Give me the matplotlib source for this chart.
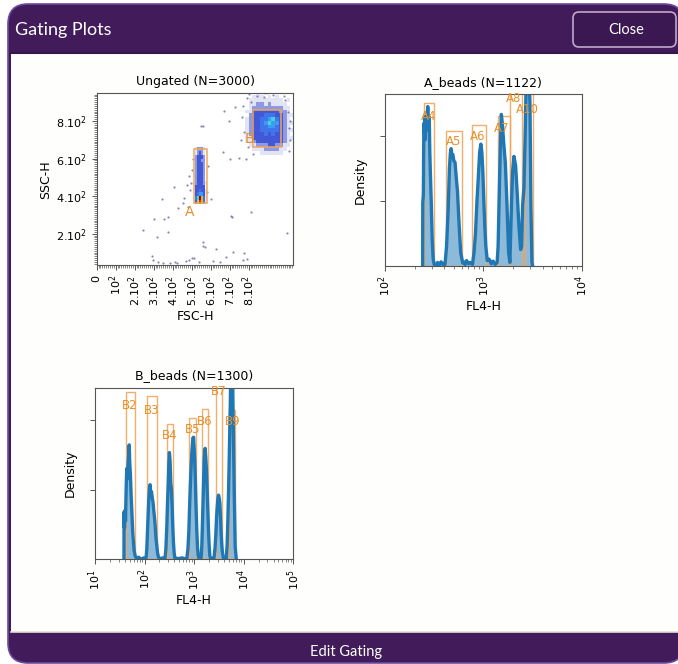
import numpy as np
import matplotlib
matplotlib.use("Agg")
import matplotlib.pyplot as plt
from matplotlib.patches import FancyBboxPatch, Rectangle
from matplotlib.colors import ListedColormap, BoundaryNorm
from matplotlib.ticker import MultipleLocator, FixedLocator, NullFormatter

# ---------------- data ----------------
# Ungated: sparse events outside the two clusters (FSC-H, SSC-H)
fsc_out = [548, 560, 670, 728, 698, 663, 702, 750, 786, 824,
           407, 342, 453, 430, 600, 705, 810, 710, 374, 354, 302, 242, 374, 316, 1000,
           558, 561, 570, 628, 681, 719, 772, 793, 777, 512,
           289, 298, 324, 347, 386, 412, 424, 470, 487, 500, 540, 610, 650,
           487, 474, 461, 491, 500, 482, 505, 582, 585, 498,
           770, 765, 775, 790, 1010, 1015, 985, 760, 800, 1005,
           795, 810, 1012, 990, 845, 930, 880, 1020]
ssc_out = [775, 775, 854, 872, 797, 637, 597, 602, 597, 625,
           447, 383, 362, 335, 383, 294, 317, 291, 291, 277, 278, 220, 211, 181, 205,
           157, 134, 131, 117, 77, 104, 60, 63, 95, 69,
           83, 60, 51, 42, 45, 51, 42, 56, 60, 72, 50, 55, 48,
           508, 460, 389, 433, 540, 344, 600, 420, 560, 470,
           880, 820, 740, 920, 760, 700, 930, 700, 945, 850,
           660, 900, 640, 910, 935, 940, 925, 800]

# Ungated: density grid of cluster A (rows = SSC bins, bottom to top)
a_fsc_edges = [510, 520, 530, 540, 550, 560, 570, 580]
a_ssc_edges = [360, 380, 400, 420, 440, 460, 480, 500, 520, 540, 560, 580, 600, 620, 640, 660]
a_density = [
    [1, 3, 7, 9, 8, 4, 1],
    [1, 4, 6, 10, 8, 4, 1],
    [1, 3, 4, 5, 5, 3, 1],
    [1, 3, 3, 4, 3, 3, 1],
    [1, 3, 3, 3, 3, 3, 0],
    [1, 2, 3, 3, 3, 2, 1],
    [0, 2, 3, 3, 3, 2, 0],
    [1, 2, 3, 3, 3, 2, 0],
    [0, 2, 3, 3, 3, 2, 0],
    [0, 2, 3, 3, 3, 2, 0],
    [0, 2, 3, 3, 3, 2, 0],
    [0, 2, 3, 3, 2, 2, 0],
    [0, 2, 3, 3, 3, 2, 0],
    [0, 1, 2, 3, 2, 1, 0],
    [0, 1, 2, 2, 2, 1, 0],
]

# Ungated: density grid of cluster B
b_fsc_edges = [780, 800, 820, 840, 860, 880, 900, 920, 940, 960, 980, 1000, 1020, 1040]
b_ssc_edges = [620, 640, 660, 680, 700, 720, 740, 760, 780, 800, 820, 840, 860, 880, 900, 920, 940, 960]
b_density = [
    [0, 0, 0, 0, 1, 1, 1, 1, 1, 1, 0, 0, 0],
    [0, 0, 1, 1, 1, 2, 2, 2, 2, 1, 1, 0, 0],
    [0, 1, 1, 2, 2, 2, 3, 3, 2, 2, 1, 1, 0],
    [1, 1, 2, 3, 3, 3, 3, 3, 3, 3, 2, 1, 0],
    [1, 1, 3, 3, 3, 3, 3, 3, 3, 3, 2, 1, 1],
    [1, 2, 3, 3, 3, 4, 3, 4, 3, 3, 2, 1, 0],
    [1, 2, 3, 3, 4, 4, 4, 4, 4, 3, 2, 1, 1],
    [1, 2, 3, 3, 4, 4, 5, 5, 4, 3, 2, 1, 0],
    [1, 2, 3, 3, 4, 5, 6, 5, 5, 3, 2, 1, 1],
    [1, 2, 3, 3, 4, 4, 5, 6, 4, 3, 2, 1, 0],
    [0, 2, 3, 3, 3, 4, 4, 4, 3, 3, 2, 1, 1],
    [1, 1, 3, 3, 3, 3, 3, 3, 3, 2, 2, 1, 0],
    [0, 1, 2, 2, 2, 2, 2, 2, 2, 2, 1, 1, 0],
    [0, 1, 1, 2, 2, 1, 2, 1, 1, 1, 1, 0, 0],
    [0, 1, 1, 1, 1, 1, 1, 1, 1, 1, 0, 1, 0],
    [0, 0, 1, 1, 1, 0, 1, 0, 1, 0, 0, 0, 0],
    [0, 0, 0, 1, 0, 1, 0, 0, 0, 0, 0, 0, 0],
]

# Ungated gates: name, fsc0, ssc0, fsc1, ssc1, label position
ug_names = ["A", "B"]
ug_fsc0 = [512, 821]
ug_ssc0 = [362, 660]
ug_fsc1 = [579, 970]
ug_ssc1 = [650, 860]
ug_lab_fsc = [491, 803]
ug_lab_ssc = [318, 705]

# A_beads density curve (log10 FL4-H, density)
a_log = [2.383, 2.384, 2.39, 2.395, 2.40, 2.405, 2.41, 2.415, 2.42, 2.425, 2.43, 2.435, 2.44,
         2.445, 2.45, 2.455, 2.46, 2.47, 2.48, 2.49, 2.50,
         2.52, 2.535, 2.55, 2.57, 2.59,
         2.61, 2.626, 2.643, 2.655, 2.665, 2.672, 2.68, 2.69, 2.70, 2.712, 2.725, 2.737, 2.748,
         2.76, 2.77, 2.78, 2.79,
         2.80, 2.815, 2.83, 2.85, 2.87,
         2.89, 2.905, 2.92, 2.935, 2.95, 2.962, 2.975, 2.985, 2.995, 3.005, 3.015, 3.025, 3.04,
         3.06, 3.08, 3.10, 3.12, 3.14,
         3.15, 3.16, 3.173, 3.183, 3.193, 3.207, 3.224, 3.24, 3.257, 3.27,
         3.277, 3.287, 3.297, 3.311, 3.328, 3.345, 3.362, 3.379, 3.389,
         3.399, 3.413, 3.426, 3.44, 3.457, 3.474, 3.484, 3.494, 3.50]
a_dens = [0.0, 0.97, 1.1, 2.2, 2.05, 2.3, 1.95, 2.2, 2.3, 2.1, 2.35, 2.46, 2.3,
          2.2, 2.3, 1.8, 1.5, 1.0, 0.4, 0.1, 0.02,
          0.0, 0.05, 0.0, 0.06, 0.02,
          0.02, 0.3, 0.9, 1.5, 1.75, 1.81, 1.7, 1.72, 1.62, 1.6, 1.35, 1.15, 0.8,
          0.45, 0.2, 0.12, 0.04,
          0.06, 0.02, 0.08, 0.03, 0.05,
          0.02, 0.2, 0.5, 1.0, 1.4, 1.75, 1.88, 1.75, 1.45, 1.0, 0.6, 0.3, 0.08,
          0.1, 0.03, 0.07, 0.02, 0.05,
          0.3, 1.0, 1.86, 2.34, 2.2, 1.9, 1.58, 0.95, 0.2, 0.05,
          0.45, 1.0, 1.45, 1.69, 1.55, 1.1, 0.6, 0.25, 0.3,
          0.93, 1.2, 2.1, 3.2, 3.5, 2.5, 0.9, 0.05, 0.0]

a_gate_names = ["A4", "A5", "A6", "A7", "A8", "A10"]
a_gate_lo = [2.396, 2.616, 2.886, 3.144, 3.27, 3.42]
a_gate_hi = [2.50, 2.785, 3.025, 3.27, 3.39, 3.50]
a_gate_top = [2.52, 2.09, 2.17, 2.32, 2.9, 2.9]
a_lab_log = [2.447, 2.70, 2.947, 3.19, 3.31, 3.45]
a_lab_y = [2.30, 1.92, 2.0, 2.12, 2.59, 2.41]

# B_beads density curve
b_log = [1.584, 1.586, 1.595, 1.605, 1.615, 1.628, 1.64, 1.65, 1.66, 1.675, 1.69, 1.70, 1.715,
         1.73, 1.745, 1.76, 1.775, 1.79, 1.81, 1.84,
         1.88, 1.93, 1.98,
         2.03, 2.045, 2.057, 2.07, 2.084, 2.098, 2.111, 2.125, 2.14, 2.155, 2.17, 2.185, 2.2,
         2.212, 2.23, 2.246, 2.26, 2.28,
         2.32, 2.37,
         2.41, 2.43, 2.448, 2.462, 2.475, 2.488, 2.501, 2.515, 2.529, 2.542, 2.556, 2.57, 2.582,
         2.596, 2.61,
         2.68, 2.76,
         2.85, 2.875, 2.893, 2.906, 2.92, 2.939, 2.955, 2.975, 2.988, 3.0, 3.013, 3.027, 3.04,
         3.054, 3.067, 3.08, 3.095,
         3.12,
         3.14, 3.155, 3.165, 3.175, 3.19, 3.202, 3.212, 3.222, 3.235, 3.249, 3.262, 3.276, 3.29,
         3.303, 3.315, 3.33,
         3.37,
         3.40, 3.42, 3.438, 3.452, 3.465, 3.48, 3.492, 3.505, 3.519, 3.532, 3.545, 3.558, 3.572,
         3.59,
         3.62,
         3.646, 3.665, 3.68, 3.695, 3.707, 3.717, 3.727, 3.747, 3.768, 3.788, 3.808, 3.828, 3.848]
b_dens = [0.0, 0.68, 0.45, 0.7, 0.55, 1.0, 1.3, 1.15, 1.3, 1.45, 1.64, 1.4, 1.2,
          0.9, 0.65, 0.4, 0.25, 0.12, 0.05, 0.01,
          0.03, 0.0, 0.02,
          0.02, 0.15, 0.37, 0.6, 0.85, 1.0, 1.07, 0.92, 0.97, 0.88, 0.82, 0.7, 0.6,
          0.5, 0.3, 0.2, 0.1, 0.03,
          0.01, 0.02,
          0.0, 0.15, 0.46, 0.8, 1.04, 1.35, 1.53, 1.4, 1.1, 1.0, 0.75, 0.45, 0.25,
          0.1, 0.02,
          0.01, 0.02,
          0.0, 0.15, 0.4, 0.71, 1.0, 1.33, 1.55, 1.74, 1.75, 1.6, 1.4, 1.05, 0.71,
          0.4, 0.18, 0.06, 0.02,
          0.01,
          0.02, 0.2, 0.45, 0.71, 1.1, 1.42, 1.55, 1.59, 1.45, 1.28, 1.0, 0.71, 0.4,
          0.2, 0.06, 0.01,
          0.01,
          0.02, 0.15, 0.37, 0.6, 0.75, 0.88, 0.92, 0.88, 0.8, 0.6, 0.37, 0.2, 0.09,
          0.02,
          0.01,
          0.0, 0.2, 0.56, 1.0, 1.42, 1.8, 2.14, 3.0, 3.0, 2.0, 0.96, 0.18, 0.02]

b_gate_names = ["B2", "B3", "B4", "B5", "B6", "B7", "B9"]
b_gate_lo = [1.626, 2.057, 2.448, 2.906, 3.16, 3.438, 3.71]
b_gate_hi = [1.808, 2.259, 2.582, 3.04, 3.276, 3.559, 3.828]
b_gate_top = [2.40, 2.34, 1.94, 2.02, 2.15, 2.7, 2.14]
b_lab_log = [1.707, 2.145, 2.501, 2.973, 3.222, 3.492, 3.768]
b_lab_y = [2.20, 2.14, 1.78, 1.86, 1.97, 2.40, 1.97]

# ---------------- style ----------------
purple = "#421c5a"
gate_col = "#f2a55a"
lab_col = "#e8902a"
blue = "#1f77b4"
spine_col = "#555555"

dens_cmap = ListedColormap(["#e2e4f5", "#8d9ae2", "#4358d6", "#3f74ea", "#3c9cf0",
                            "#44d2e2", "#a8e050", "#f0b020", "#e03010", "#a00808"])
dens_norm = BoundaryNorm(np.arange(0.5, 11.5, 1.0), dens_cmap.N)

W, H = 678, 664
fig = plt.figure(figsize=(W / 100, H / 100), dpi=100)
fig.patch.set_facecolor("white")

# ---------------- window chrome (pixel coordinates) ----------------
bg = fig.add_axes([0, 0, 1, 1])
bg.set_xlim(0, W)
bg.set_ylim(H, 0)
bg.axis("off")
bg.add_patch(FancyBboxPatch((8, 4), 676, 659, boxstyle="round,pad=0,rounding_size=20",
                            fc=purple, ec="#6a4a9e", lw=1.2))
bg.add_patch(Rectangle((11, 53), 680, 579, fc="#fefefc", ec="none"))
bg.plot([11, W], [631.5, 631.5], color="#e4e0d2", lw=1.2)
bg.plot([11, W], [52.5, 52.5], color="#37164c", lw=1.5)
bg.text(15, 30, "Gating Plots", color="white", fontsize=13, family="Lato",
        ha="left", va="center")
bg.add_patch(FancyBboxPatch((573, 12), 103, 35, boxstyle="round,pad=0,rounding_size=6",
                            fc="#3c1853", ec="#c0a8cc", lw=1.2))
bg.text(626, 30, "Close", color="white", fontsize=10.5, family="Lato",
        ha="center", va="center")
bg.text(346, 652, "Edit Gating", color="white", fontsize=10.5, family="Lato",
        ha="center", va="center")


def style_axes(ax):
    for s in ax.spines.values():
        s.set_color(spine_col)
        s.set_linewidth(0.8)
    ax.tick_params(which="major", length=3.5, width=0.7, color=spine_col, labelsize=8)
    ax.tick_params(which="minor", length=2, width=0.5, color=spine_col)


# ---------------- Ungated scatter ----------------
ax1 = fig.add_axes([96.7 / W, 1 - 265.3 / H, 196.6 / W, 172 / H])
style_axes(ax1)
za = np.ma.masked_equal(np.array(a_density), 0)
zb = np.ma.masked_equal(np.array(b_density), 0)
ax1.pcolormesh(a_fsc_edges, a_ssc_edges, za, cmap=dens_cmap, norm=dens_norm)
ax1.pcolormesh(b_fsc_edges, b_ssc_edges, zb, cmap=dens_cmap, norm=dens_norm)
ax1.scatter(fsc_out, ssc_out, s=2.5, color="#3a3a8a", alpha=0.6, lw=0)
for i, name in enumerate(ug_names):
    ax1.add_patch(Rectangle((ug_fsc0[i], ug_ssc0[i]), ug_fsc1[i] - ug_fsc0[i],
                            ug_ssc1[i] - ug_ssc0[i], fill=False, ec=gate_col, lw=1.1))
    ax1.text(ug_lab_fsc[i], ug_lab_ssc[i], name, color=lab_col, fontsize=10,
             ha="center", va="center")
ax1.set_xlim(0, 1035)
ax1.set_ylim(32, 947)
x_major = [0, 100, 200, 300, 400, 500, 600, 700, 800]
x_labels = ["0", r"$\mathdefault{10^{2}}$"] + [r"$\mathdefault{%d.10^{2}}$" % k for k in range(2, 9)]
ax1.xaxis.set_major_locator(FixedLocator(x_major))
ax1.set_xticklabels(x_labels, rotation=90)
ax1.xaxis.set_minor_locator(MultipleLocator(10))
y_major = [200, 400, 600, 800]
ax1.yaxis.set_major_locator(FixedLocator(y_major))
ax1.set_yticklabels([r"$\mathdefault{%d.10^{2}}$" % k for k in (2, 4, 6, 8)])
ax1.yaxis.set_minor_locator(MultipleLocator(10))
ax1.set_title("Ungated (N=3000)", fontsize=9, pad=6)
ax1.set_xlabel("FSC-H", fontsize=9, labelpad=3)
ax1.set_ylabel("SSC-H", fontsize=9, labelpad=3)


def density_panel(ax, logs, dens, names, lo, hi, top, lab_log, lab_y, xlim, ylim, title):
    style_axes(ax)
    fl4 = 10 ** np.array(logs)
    ax.fill_between(fl4, dens, color=blue, alpha=0.5, lw=0)
    ax.plot(fl4, dens, color=blue, lw=2.4)
    for i, name in enumerate(names):
        x0, x1 = 10 ** lo[i], 10 ** hi[i]
        ax.add_patch(Rectangle((x0, 0), x1 - x0, top[i], fill=False, ec=gate_col,
                               lw=1.0, alpha=0.9))
        ax.text(10 ** lab_log[i], lab_y[i], name, color=lab_col, fontsize=8.5,
                ha="center", va="center")
    ax.set_xscale("log")
    ax.set_xlim(*xlim)
    ax.set_ylim(*ylim)
    ax.set_yticks([1, 2])
    ax.yaxis.set_major_formatter(NullFormatter())
    ax.xaxis.set_minor_formatter(NullFormatter())
    ax.tick_params(axis="x", labelrotation=90)
    ax.set_title(title, fontsize=9, pad=6)
    ax.set_xlabel("FL4-H", fontsize=9, labelpad=3)
    ax.set_ylabel("Density", fontsize=9, labelpad=6)


ax2 = fig.add_axes([385 / W, 1 - 265.7 / H, 196.7 / W, 171.4 / H])
density_panel(ax2, a_log, a_dens, a_gate_names, a_gate_lo, a_gate_hi, a_gate_top,
              a_lab_log, a_lab_y, (1e2, 1e4), (0, 2.65), "A_beads (N=1122)")

ax3 = fig.add_axes([95 / W, 1 - 559.3 / H, 198.3 / W, 171.6 / H])
density_panel(ax3, b_log, b_dens, b_gate_names, b_gate_lo, b_gate_hi, b_gate_top,
              b_lab_log, b_lab_y, (1e1, 1e5), (0, 2.46), "B_beads (N=1300)")

fig.savefig("out.png", dpi=100, facecolor=fig.get_facecolor())
